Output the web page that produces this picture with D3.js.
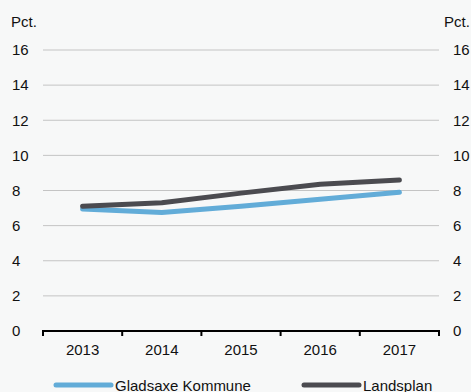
<!DOCTYPE html>
<html>
<head>
<meta charset="utf-8">
<script src="https://cdn.jsdelivr.net/npm/d3@7"></script>
<style>
  body { margin: 0; background: #f7f8f8; }
  svg { display: block; font-family: "Liberation Sans", Arial, sans-serif; }
</style>
</head>
<body>
<div id="container"></div>
<script>
/* DATA */
const years = ["2013", "2014", "2015", "2016", "2017"];
const gladsaxe = [6.95, 6.75, 7.1, 7.5, 7.9];
const landsplan = [7.1, 7.3, 7.85, 8.35, 8.6];
const yTicks = [0, 2, 4, 6, 8, 10, 12, 14, 16];
const seriesNames = ["Gladsaxe Kommune", "Landsplan"];
const seriesColors = ["#62acd8", "#4b4b50"];

/* CONSTANTS */
const width = 471,
  height = 392,
  margin = { top: 50, bottom: 61, left: 43, right: 32 },
  fontSize = 15;

const svg = d3.select("#container")
  .append("svg")
  .attr("width", width)
  .attr("height", height);

svg.append("rect")
  .attr("width", width)
  .attr("height", height)
  .attr("fill", "#f7f8f8");

// scales
const xScale = d3.scaleBand()
  .domain(years)
  .range([margin.left, width - margin.right]);

const yScale = d3.scaleLinear()
  .domain([0, 16])
  .range([height - margin.bottom, margin.top]);

// gridlines
svg.append("g")
  .selectAll("line")
  .data(yTicks.filter(d => d > 0))
  .join("line")
  .attr("x1", margin.left)
  .attr("x2", width - margin.right)
  .attr("y1", d => yScale(d))
  .attr("y2", d => yScale(d))
  .attr("stroke", "#c4c4c4")
  .attr("stroke-width", 1);

// y labels both sides
const yLabels = svg.append("g")
  .attr("font-size", fontSize)
  .attr("fill", "#111");

yLabels.selectAll("text.left")
  .data(yTicks)
  .join("text")
  .attr("class", "left")
  .attr("x", 12)
  .attr("y", d => yScale(d))
  .attr("dy", "0.35em")
  .text(d => d);

yLabels.selectAll("text.right")
  .data(yTicks)
  .join("text")
  .attr("class", "right")
  .attr("x", 453)
  .attr("y", d => yScale(d))
  .attr("dy", "0.35em")
  .text(d => d);

svg.append("text")
  .attr("x", 11)
  .attr("y", 27)
  .attr("font-size", fontSize)
  .attr("fill", "#111")
  .text("Pct.");

svg.append("text")
  .attr("x", 444)
  .attr("y", 27)
  .attr("font-size", fontSize)
  .attr("fill", "#111")
  .text("Pct.");

// x axis
const xAxis = svg.append("g")
  .attr("transform", `translate(0,${yScale(0)})`);

xAxis.append("line")
  .attr("x1", margin.left - 1)
  .attr("x2", width - margin.right + 1)
  .attr("stroke", "#000")
  .attr("stroke-width", 2);

const tickPos = years.map(d => xScale(d)).concat([xScale(years[years.length - 1]) + xScale.bandwidth()]);
xAxis.selectAll("line.tick")
  .data(tickPos)
  .join("line")
  .attr("class", "tick")
  .attr("x1", d => d)
  .attr("x2", d => d)
  .attr("y1", 0)
  .attr("y2", 5)
  .attr("stroke", "#000")
  .attr("stroke-width", 2);

xAxis.selectAll("text")
  .data(years)
  .join("text")
  .attr("x", d => xScale(d) + xScale.bandwidth() / 2)
  .attr("y", 24)
  .attr("text-anchor", "middle")
  .attr("font-size", fontSize)
  .attr("fill", "#111")
  .text(d => d);

// lines
const line = d3.line()
  .x((d, i) => xScale(years[i]) + xScale.bandwidth() / 2)
  .y(d => yScale(d));

[gladsaxe, landsplan].forEach((series, i) => {
  svg.append("path")
    .datum(series)
    .attr("d", line)
    .attr("fill", "none")
    .attr("stroke", seriesColors[i])
    .attr("stroke-width", 5)
    .attr("stroke-linecap", "round")
    .attr("stroke-linejoin", "round");
});

// legend
const legendX = [56, 304];
const legend = svg.append("g")
  .selectAll("g")
  .data(seriesNames)
  .join("g")
  .attr("transform", (d, i) => `translate(${legendX[i]},385)`);

legend.append("line")
  .attr("x1", 0)
  .attr("x2", 55)
  .attr("stroke", (d, i) => seriesColors[i])
  .attr("stroke-width", 5)
  .attr("stroke-linecap", "round");

legend.append("text")
  .attr("x", 59)
  .attr("y", 6)
  .attr("font-size", fontSize)
  .attr("fill", "#111")
  .text(d => d);
</script>
</body>
</html>
